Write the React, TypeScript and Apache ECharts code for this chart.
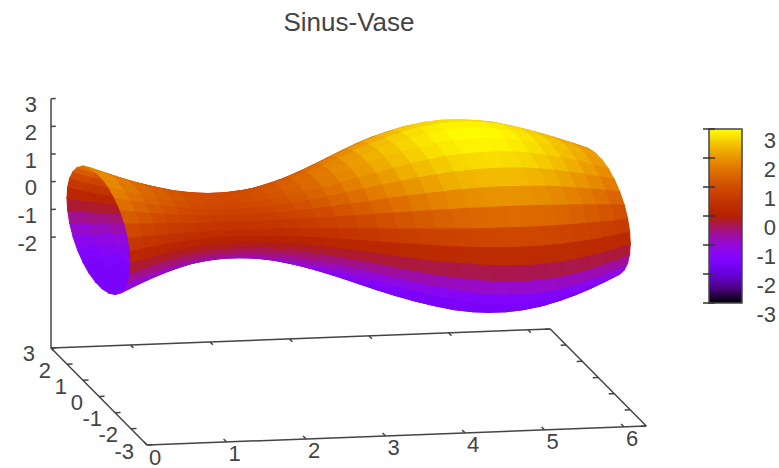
import React, { useEffect, useRef } from "react";
import * as echarts from "echarts";

const title = "Sinus-Vase";
// Stations along the vase (x) and the vase radius read at each of them
const xStations = [0, 0.21, 0.42, 0.63, 0.84, 1.05, 1.26, 1.47, 1.68, 1.88, 2.09, 2.3, 2.51, 2.72, 2.93, 3.14, 3.35, 3.56, 3.77, 3.98, 4.19, 4.4, 4.61, 4.82, 5.03, 5.24, 5.45, 5.65, 5.86, 6.07, 6.28];
const radii = [2.0, 1.79, 1.59, 1.41, 1.26, 1.13, 1.05, 1.01, 1.01, 1.05, 1.13, 1.26, 1.41, 1.59, 1.79, 2.0, 2.21, 2.41, 2.59, 2.74, 2.87, 2.95, 2.99, 2.99, 2.95, 2.87, 2.74, 2.59, 2.41, 2.21, 2.0];
const ringAngles = [0, 12, 24, 36, 48, 60, 72, 84, 96, 108, 120, 132, 144, 156, 168, 180, 192, 204, 216, 228, 240, 252, 264, 276, 288, 300, 312, 324, 336, 348, 360];
const xTicks = [0, 1, 2, 3, 4, 5, 6];
const yTicks = [-3, -2, -1, 0, 1, 2, 3];
const zTicks = [-2, -1, 0, 1, 2, 3];
const paletteValues = [0, 0.0833, 0.1667, 0.25, 0.3333, 0.4167, 0.5, 0.5833, 0.6667, 0.75, 0.8333, 0.9167, 1];
const paletteColors = ["#000000", "#4a0080", "#6801dd", "#8004ff", "#9309dd", "#a41280", "#b42000", "#c33300", "#d04b00", "#dd6c00", "#e99400", "#f4c400", "#ffff00"];

const INK = "#444444";
const FONT = "'Liberation Sans', Arial, sans-serif";
const XMAX = 6.28;
const Z_BASE = -6;
const SURFACE_FLOOR = 0.235; // the surface never gets darker than this palette position

// Projection of gnuplot's 3D view onto the page
function project(x: number, y: number, z: number): [number, number] {
  return [
    147 + x * 79.5 - (y + 3) * 16,
    445 - x * 3.03 - (y + 3) * 16.17 - (z - Z_BASE) * 27.7,
  ];
}
function depth(x: number, y: number, z: number) {
  return -x - 4.97 * y + 3.01 * z;
}
function hexToRgb(h: string) {
  return [1, 3, 5].map((i) => parseInt(h.slice(i, i + 2), 16));
}
function colorFor(g: number) {
  const v = Math.min(1, Math.max(SURFACE_FLOOR, g));
  let i = 0;
  while (i < paletteValues.length - 2 && v > paletteValues[i + 1]) i++;
  const t = (v - paletteValues[i]) / (paletteValues[i + 1] - paletteValues[i]);
  const a = hexToRgb(paletteColors[i]);
  const b = hexToRgb(paletteColors[i + 1]);
  return `rgb(${a.map((c, k) => Math.round(c + (b[k] - c) * t)).join(",")})`;
}
function ringPoint(i: number, j: number): [number, number, number] {
  const th = (ringAngles[j] * Math.PI) / 180;
  return [xStations[i], radii[i] * Math.cos(th), radii[i] * Math.sin(th)];
}

const quads: { value: number[]; d: number }[] = [];
for (let i = 0; i < xStations.length - 1; i++) {
  for (let j = 0; j < ringAngles.length - 1; j++) {
    const c = [ringPoint(i, j), ringPoint(i + 1, j), ringPoint(i + 1, j + 1), ringPoint(i, j + 1)];
    const m = [0, 1, 2].map((k) => (c[0][k] + c[1][k] + c[2][k] + c[3][k]) / 4);
    quads.push({ value: [i, j], d: depth(m[0], m[1], m[2]) });
  }
}
quads.sort((a, b) => a.d - b.d);

function renderSurface(params: any, api: any) {
  const i = api.value(0);
  const j = api.value(1);
  const c = [ringPoint(i, j), ringPoint(i + 1, j), ringPoint(i + 1, j + 1), ringPoint(i, j + 1)];
  const points = c.map((p) => {
    const s = project(p[0], p[1], p[2]);
    return api.coord(s);
  });
  const z = (c[0][2] + c[1][2] + c[2][2] + c[3][2]) / 4;
  const col = colorFor((z + 3) / 6);
  return { type: "polygon", shape: { points }, style: { fill: col, stroke: col, lineWidth: 1.1 } };
}

type Seg = { a: number[]; b: number[] };
type Lab = { text: string; at: number[]; align: string };
const segs: Seg[] = [];
const labs: Lab[] = [];
const bz = Z_BASE;
segs.push({ a: [0, -3, bz], b: [XMAX, -3, bz] });
segs.push({ a: [0, 3, bz], b: [XMAX, 3, bz] });
segs.push({ a: [0, -3, bz], b: [0, 3, bz] });
segs.push({ a: [XMAX, -3, bz], b: [XMAX, 3, bz] });
segs.push({ a: [0, 3, bz], b: [0, 3, 3] });
xTicks.forEach((x) => {
  segs.push({ a: [x, -3, bz], b: [x, -2.82, bz] });
  segs.push({ a: [x, 3, bz], b: [x, 2.82, bz] });
  const p = project(x, -3, bz);
  labs.push({ text: String(x), at: [p[0] + 8, p[1] + 12], align: "center" });
});
yTicks.forEach((y) => {
  segs.push({ a: [0, y, bz], b: [0.07, y, bz] });
  segs.push({ a: [XMAX, y, bz], b: [XMAX - 0.07, y, bz] });
  const p = project(0, y, bz);
  labs.push({ text: String(y), at: [p[0] - (y < 0 ? 13 : 16), p[1] + 6], align: "right" });
});
zTicks.forEach((z) => {
  segs.push({ a: [0, 3, z], b: [0.06, 3, z] });
  const p = project(0, 3, z);
  labs.push({ text: String(z), at: [p[0] - 14, p[1] + 6], align: "right" });
});

function renderSeg(params: any, api: any) {
  const s = segs[api.value(0)];
  const p = api.coord(project(s.a[0], s.a[1], s.a[2]));
  const q = api.coord(project(s.b[0], s.b[1], s.b[2]));
  return {
    type: "line",
    shape: { x1: p[0], y1: p[1], x2: q[0], y2: q[1] },
    style: { stroke: INK, lineWidth: 1.5 },
  };
}
function renderLab(params: any, api: any) {
  const l = labs[api.value(0)];
  const p = api.coord(l.at);
  return {
    type: "text",
    x: p[0],
    y: p[1],
    style: { text: l.text, fill: INK, font: `22px ${FONT}`, align: l.align, verticalAlign: "middle" },
  };
}

export default function App() {
  const ref = useRef<HTMLDivElement>(null);
  useEffect(() => {
    const chart = echarts.init(ref.current!, undefined, { renderer: "svg" });
    const gradient = new echarts.graphic.LinearGradient(
      0, 1, 0, 0,
      paletteValues.map((v, i) => ({ offset: v, color: paletteColors[i] }))
    );
    chart.setOption({
      animation: false,
      backgroundColor: "#ffffff",
      title: {
        text: title,
        left: 344,
        top: 4,
        textAlign: "center",
        textStyle: { fontFamily: FONT, fontSize: 26, fontWeight: "normal", color: INK },
      },
      grid: [
        { left: 0, top: 0, width: 779, height: 468, show: false },
        { left: 709, top: 129, width: 36, height: 174, show: true, borderColor: INK, borderWidth: 1.5, backgroundColor: gradient },
      ],
      xAxis: [
        { type: "value", gridIndex: 0, min: 0, max: 779, show: false },
        { type: "value", gridIndex: 1, min: 0, max: 1, show: false },
      ],
      yAxis: [
        { type: "value", gridIndex: 0, min: 0, max: 468, inverse: true, show: false },
        {
          type: "value", gridIndex: 1, min: -3, max: 3, interval: 1, position: "right",
          axisLine: { show: false },
          axisTick: { inside: true, length: 6, lineStyle: { color: "#333", width: 1.5 } },
          splitLine: { show: false },
          axisLabel: { margin: 34, align: "right", verticalAlign: "top", color: INK, fontFamily: FONT, fontSize: 22 },
        },
        {
          type: "value", gridIndex: 1, min: -3, max: 3, interval: 1, position: "left",
          axisLine: { show: false },
          axisTick: { inside: true, length: 6, lineStyle: { color: "#333", width: 1.5 } },
          splitLine: { show: false },
          axisLabel: { show: false },
        },
      ],
      series: [
        {
          type: "custom", coordinateSystem: "cartesian2d", xAxisIndex: 0, yAxisIndex: 0,
          silent: true, clip: false, renderItem: renderSeg,
          data: segs.map((_, i) => [i]), encode: { x: 0 },
        },
        {
          type: "custom", coordinateSystem: "cartesian2d", xAxisIndex: 0, yAxisIndex: 0,
          silent: true, clip: false, renderItem: renderSurface,
          data: quads.map((q) => q.value), encode: { x: 0, y: 1 },
        },
        {
          type: "custom", coordinateSystem: "cartesian2d", xAxisIndex: 0, yAxisIndex: 0,
          silent: true, clip: false, renderItem: renderLab,
          data: labs.map((_, i) => [i]), encode: { x: 0 },
        },
      ],
    });
    return () => chart.dispose();
  }, []);
  return <div ref={ref} style={{ position: "absolute", left: 0, top: 0, width: 779, height: 468 }} />;
}
